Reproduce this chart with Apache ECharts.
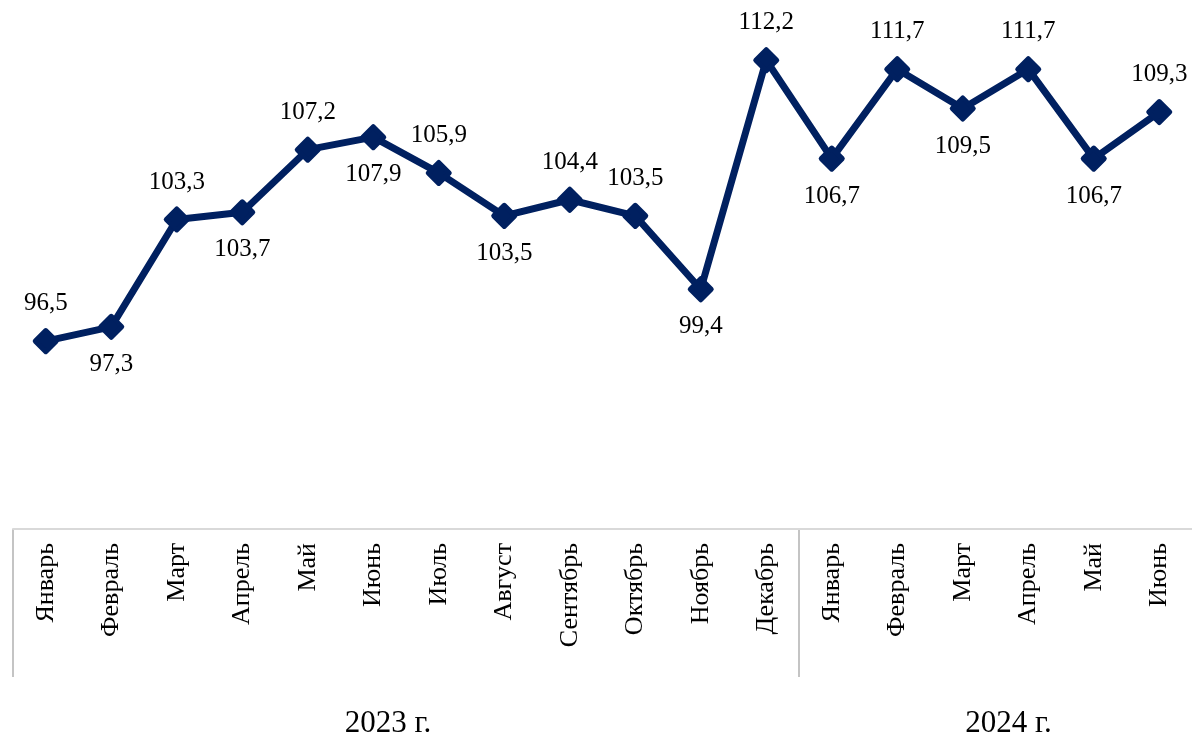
<!DOCTYPE html>
<html>
<head>
<meta charset="utf-8">
<script src="https://cdn.jsdelivr.net/npm/echarts@6/dist/echarts.min.js"></script>
<style>
    html, body { margin: 0; padding: 0; background: #fff; }
    #chart { width: 1192px; height: 739px; }
</style>
</head>
<body>
<div id="chart"></div>
<script>
const months = ['Январь', 'Февраль', 'Март', 'Апрель', 'Май', 'Июнь', 'Июль', 'Август', 'Сентябрь', 'Октябрь', 'Ноябрь', 'Декабрь',
    'Январь', 'Февраль', 'Март', 'Апрель', 'Май', 'Июнь'];
const values = [96.5, 97.3, 103.3, 103.7, 107.2, 107.9, 105.9, 103.5, 104.4, 103.5, 99.4, 112.2,
    106.7, 111.7, 109.5, 111.7, 106.7, 109.3];
const years = ['2023 г.', '2024 г.'];
const yearSize = [12, 6];

// where the value label sits for each point
const labelSide = ['top', 'bottom', 'top', 'bottom', 'top', 'bottom', 'top', 'bottom', 'top', 'top', 'bottom', 'top',
    'bottom', 'top', 'bottom', 'top', 'bottom', 'top'];

const font = '"Liberation Serif", "Times New Roman", serif';
const navy = '#002060';

let myChart = echarts.init(document.getElementById('chart'));

let option = {
    animation: false,
    grid: {
        left: 13,
        right: 0,
        top: 28,
        bottom: 210
    },
    xAxis: {
        type: 'category',
        data: months,
        boundaryGap: true,
        axisLine: {
            lineStyle: { color: '#d9d9d9', width: 2 }
        },
        axisTick: {
            interval: 0,
            length: 7,
            lineStyle: { color: '#d9d9d9', width: 2 }
        },
        axisLabel: {
            interval: 0,
            rotate: 90,
            margin: 14,
            fontFamily: font,
            fontSize: 26,
            color: '#000'
        }
    },
    yAxis: {
        type: 'value',
        min: 86,
        max: 114,
        show: false
    },
    series: [{
        type: 'line',
        data: values.map((v, i) => ({
            value: v,
            label: { position: labelSide[i] }
        })),
        lineStyle: { color: navy, width: 7 },
        symbol: 'diamond',
        symbolSize: 21,
        itemStyle: {
            color: navy,
            borderColor: navy,
            borderWidth: 5,
            borderJoin: 'round'
        },
        label: {
            show: true,
            distance: 12,
            fontFamily: font,
            fontSize: 25,
            color: '#000',
            formatter: p => String(p.value).replace('.', ',')
        }
    }]
};

myChart.setOption(option);

// group separators and year captions, placed from the category scale
let x0 = myChart.convertToPixel({ xAxisIndex: 0 }, 0);
let x1 = myChart.convertToPixel({ xAxisIndex: 0 }, 1);
let band = x1 - x0;
let axisY = myChart.convertToPixel({ yAxisIndex: 0 }, 86);
let graphics = [];
let start = 0;
years.forEach((y, i) => {
    let left = x0 - band / 2 + start * band;
    let right = left + yearSize[i] * band;
    graphics.push({
        type: 'line',
        shape: { x1: left, y1: axisY, x2: left, y2: axisY + 148 },
        style: { stroke: '#c4c4c4', lineWidth: 2 }
    });
    graphics.push({
        type: 'text',
        x: i === 0 ? (left + right) / 2 - 18 : (left + right) / 2 + 13,
        y: 724,
        style: {
            text: y,
            fontFamily: font,
            fontSize: 31,
            fill: '#000',
            align: 'center',
            verticalAlign: 'middle'
        }
    });
    start += yearSize[i];
});
myChart.setOption({ graphic: graphics });
</script>
</body>
</html>
